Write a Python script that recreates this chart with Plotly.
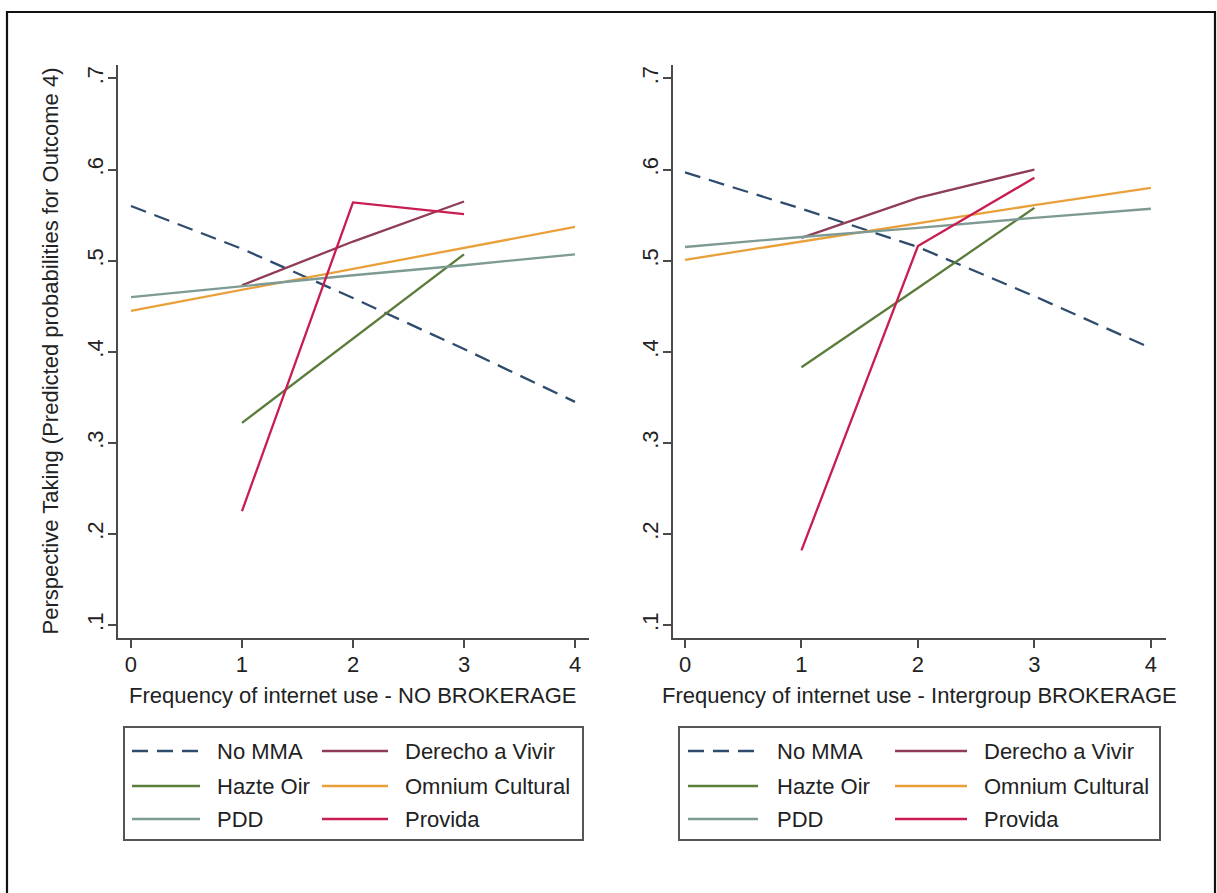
import plotly.graph_objects as go

W, H = 1217, 893
FONT = "Arial, Liberation Sans, sans-serif"
TEXT = "#222222"
AXIS = "#4a4a4a"

# Series definitions
series = ["No MMA", "Derecho a Vivir", "Hazte Oir", "Omnium Cultural", "PDD", "Provida"]
colors = ["#2f4c6e", "#8f3d57", "#5b7d3c", "#e9a03b", "#7d9a94", "#c91c50"]
dashes = ["16px,9px", "solid", "solid", "solid", "solid", "solid"]

# Frequency of internet use (x values)
x_full = [0, 1, 2, 3, 4]
x_mid = [1, 2, 3]
series_x = [x_full, x_mid, x_mid, x_full, x_full, x_mid]

# Predicted probabilities - NO BROKERAGE
no_mma_nb = [0.560, 0.513, 0.459, 0.403, 0.345]
derecho_nb = [0.473, 0.521, 0.565]
hazte_nb = [0.322, 0.414, 0.507]
omnium_nb = [0.445, 0.468, 0.491, 0.514, 0.537]
pdd_nb = [0.460, 0.472, 0.484, 0.495, 0.507]
provida_nb = [0.225, 0.564, 0.551]

# Predicted probabilities - Intergroup BROKERAGE
no_mma_ib = [0.597, 0.557, 0.515, 0.461, 0.404]
derecho_ib = [0.525, 0.569, 0.600]
hazte_ib = [0.383, 0.470, 0.558]
omnium_ib = [0.501, 0.521, 0.541, 0.561, 0.580]
pdd_ib = [0.515, 0.526, 0.536, 0.547, 0.557]
provida_ib = [0.182, 0.516, 0.591]

panel_nb = [no_mma_nb, derecho_nb, hazte_nb, omnium_nb, pdd_nb, provida_nb]
panel_ib = [no_mma_ib, derecho_ib, hazte_ib, omnium_ib, pdd_ib, provida_ib]

y_ticks = [0.1, 0.2, 0.3, 0.4, 0.5, 0.6, 0.7]
y_tick_text = [".1", ".2", ".3", ".4", ".5", ".6", ".7"]
x_ticks = [0, 1, 2, 3, 4]

x_titles = ["Frequency of internet use - NO BROKERAGE",
            "Frequency of internet use - Intergroup BROKERAGE"]
y_title = "Perspective Taking (Predicted probabilities for Outcome 4)"


def px(p):
    return p / W


def py(p):
    return 1 - p / H


fig = go.Figure()

for values, xa, ya in [(panel_nb, "x", "y"), (panel_ib, "x2", "y2")]:
    for name, xs, ys, col, dash in zip(series, series_x, values, colors, dashes):
        fig.add_trace(go.Scatter(
            x=xs, y=ys, mode="lines", name=name, xaxis=xa, yaxis=ya,
            line=dict(color=col, width=2.3, dash=dash),
            showlegend=False, hoverinfo="x+y+name",
        ))

axis_common = dict(
    showgrid=False, zeroline=False, showline=True,
    linecolor=AXIS, linewidth=2, ticks="outside", ticklen=8,
    tickwidth=2, tickcolor=AXIS,
    tickfont=dict(family=FONT, size=22, color=TEXT),
)

y_dom = [py(638), py(65)]
y_range = [0.0858, 0.7148]

fig.update_layout(
    width=W, height=H,
    margin=dict(l=0, r=0, t=0, b=0),
    paper_bgcolor="white", plot_bgcolor="white",
    font=dict(family=FONT, size=22, color=TEXT),
    xaxis=dict(domain=[px(118), px(589)], range=[-0.117, 4.126],
               tickvals=x_ticks, anchor="y", ticklabelstandoff=-2, **axis_common),
    yaxis=dict(domain=y_dom, range=y_range, tickvals=y_ticks, ticktext=y_tick_text,
               tickangle=-90, anchor="x", ticklabelstandoff=-4, **axis_common),
    xaxis2=dict(domain=[px(673), px(1166)], range=[-0.103, 4.13],
                tickvals=x_ticks, anchor="y2", ticklabelstandoff=-2, **axis_common),
    yaxis2=dict(domain=y_dom, range=y_range, tickvals=y_ticks, ticktext=y_tick_text,
                tickangle=-90, anchor="x2", ticklabelstandoff=-4, **axis_common),
)

shapes = []
annotations = []

# outer frame
shapes.append(dict(type="rect", xref="paper", yref="paper",
                   x0=px(7), x1=px(1215), y0=py(905), y1=py(12),
                   line=dict(color="#111111", width=2.2)))

# axis titles
annotations.append(dict(text=x_titles[0], x=px(353.5), y=py(695), xref="paper", yref="paper",
                        showarrow=False, xanchor="center", yanchor="middle",
                        font=dict(family=FONT, size=22, color=TEXT)))
annotations.append(dict(text=x_titles[1], x=px(919.5), y=py(695), xref="paper", yref="paper",
                        showarrow=False, xanchor="center", yanchor="middle",
                        font=dict(family=FONT, size=22, color=TEXT)))
annotations.append(dict(text=y_title, x=px(50), y=py(351.5), xref="paper", yref="paper",
                        showarrow=False, textangle=-90, xanchor="center", yanchor="middle",
                        font=dict(family=FONT, size=22, color=TEXT)))

# legend boxes below each panel (2 columns x 3 rows)
legend_layouts = [
    dict(box=(124, 583), cols=[(132, 200, 215), (322, 388, 403)]),
    dict(box=(679, 1160), cols=[(688, 758, 775), (895, 967, 982)]),
]
row_y = [751, 786, 819]
for lay in legend_layouts:
    bx0, bx1 = lay["box"]
    shapes.append(dict(type="rect", xref="paper", yref="paper",
                       x0=px(bx0), x1=px(bx1), y0=py(840), y1=py(727),
                       line=dict(color="#555555", width=2)))
    for i, (name, col, dash) in enumerate(zip(series, colors, dashes)):
        r, c = divmod(i, 2)
        lx0, lx1, tx = lay["cols"][c]
        yy = py(row_y[r])
        shapes.append(dict(type="line", xref="paper", yref="paper",
                           x0=px(lx0), x1=px(lx1), y0=yy, y1=yy,
                           line=dict(color=col, width=2.3, dash=dash)))
        annotations.append(dict(text=name, x=px(tx), y=yy, xref="paper", yref="paper",
                                showarrow=False, xanchor="left", yanchor="middle",
                                font=dict(family=FONT, size=22, color=TEXT)))

fig.update_layout(shapes=shapes, annotations=annotations)

fig.write_html("out.html")
